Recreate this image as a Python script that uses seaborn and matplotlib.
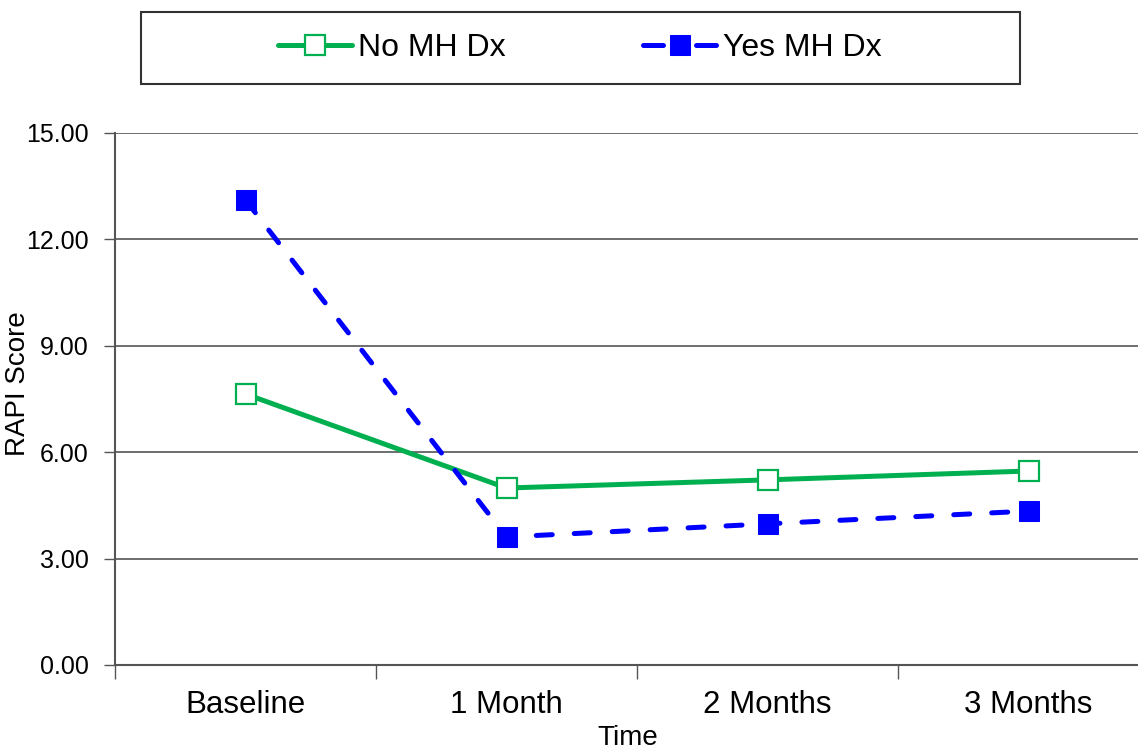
"""RAPI score over time by mental health diagnosis"""

from copy import copy

import numpy as np
import pandas as pd
import matplotlib
matplotlib.use('Agg')
import matplotlib.pyplot as plt
import seaborn as sns
from matplotlib.patches import Rectangle

time_labels = ['Baseline', '1 Month', '2 Months', '3 Months']
no_mh = [7.64, 4.99, 5.22, 5.47]
yes_mh = [13.11, 3.61, 3.98, 4.34]
y_ticks = [0, 3, 6, 9, 12, 15]

sns.set_style('white')
plt.rcParams['font.family'] = ['Liberation Sans', 'DejaVu Sans']
plt.rcParams['text.color'] = 'black'
plt.rcParams['axes.labelcolor'] = 'black'
plt.rcParams['xtick.labelcolor'] = 'black'
plt.rcParams['ytick.labelcolor'] = 'black'

df_no = pd.DataFrame({'Time': time_labels, 'score': no_mh})
df_yes = pd.DataFrame({'Time': time_labels, 'score': yes_mh})

fig = plt.figure(figsize=(11.38, 7.51), dpi=100)
ax = fig.add_axes([115 / 1138, 86 / 751, 1044 / 1138, 532 / 751])

# 网格线先画
for v in y_ticks[1:]:
    ax.axhline(v, color='#555555', lw=1.2, zorder=0)

sns.lineplot(data=df_no, x='Time', y='score', ax=ax, color='#00B050', lw=3.6,
             marker='s', markersize=14.5, markerfacecolor='white',
             markeredgecolor='#00B050', markeredgewidth=1.6,
             label='No MH Dx', sort=False)
sns.lineplot(data=df_yes, x='Time', y='score', ax=ax, color='#0000FF', lw=3.6,
             marker='s', markersize=14.5, markerfacecolor='#0000FF',
             markeredgecolor='#0000FF', linestyle=(0, (3.2, 4.4)),
             dash_capstyle='round', label='Yes MH Dx', sort=False)

ax.set_xlim(-0.5, 3.5)
ax.set_ylim(0, 15)
ax.set_yticks(y_ticks)
ax.set_yticklabels([f'{v:.2f}' for v in y_ticks])
ax.set_xticks(range(len(time_labels)))
ax.set_xticklabels(time_labels)
ax.set_xticks([-0.5, 0.5, 1.5, 2.5, 3.5], minor=True)
ax.tick_params(axis='x', which='major', length=0, pad=18, labelsize=22.5)
ax.tick_params(axis='x', which='minor', length=10, width=1, color='#555555',
               direction='out', bottom=True)
ax.tick_params(axis='y', length=8, width=1, color='#555555', direction='out',
               left=True, labelsize=18, pad=11)

for side in ['top', 'right']:
    ax.spines[side].set_visible(False)
for side in ['left', 'bottom']:
    ax.spines[side].set_color('#555555')
    ax.spines[side].set_linewidth(1.5)

ax.set_xlabel('Time', fontsize=20)
ax.xaxis.set_label_coords((628 - 115) / 1044, -(725 - 665) / 532)
ax.set_ylabel('RAPI Score', fontsize=20)
ax.yaxis.set_label_coords((31 - 115) / 1044, (665 - 384) / 532)

# 图例：外框单独画，虚线图例用副本（两端各一段虚线）
handles, labels = ax.get_legend_handles_labels()
ax.get_legend().remove()
handles = [copy(h) for h in handles]
handles[1].set_linestyle((0, (4.0, 6.6)))

fig.patches.append(Rectangle((141 / 1138, 1 - 84 / 751), 879 / 1138, 72 / 751,
                             transform=fig.transFigure, fill=False,
                             edgecolor='#333333', lw=1.5))
fig.legend(handles, labels, loc='center', bbox_to_anchor=(580 / 1138, 1 - 48 / 751),
           ncol=2, frameon=False, fontsize=23, handlelength=2.3,
           handletextpad=0.2, columnspacing=4.3, markerscale=1.0)

fig.savefig('out.png', dpi=100)
